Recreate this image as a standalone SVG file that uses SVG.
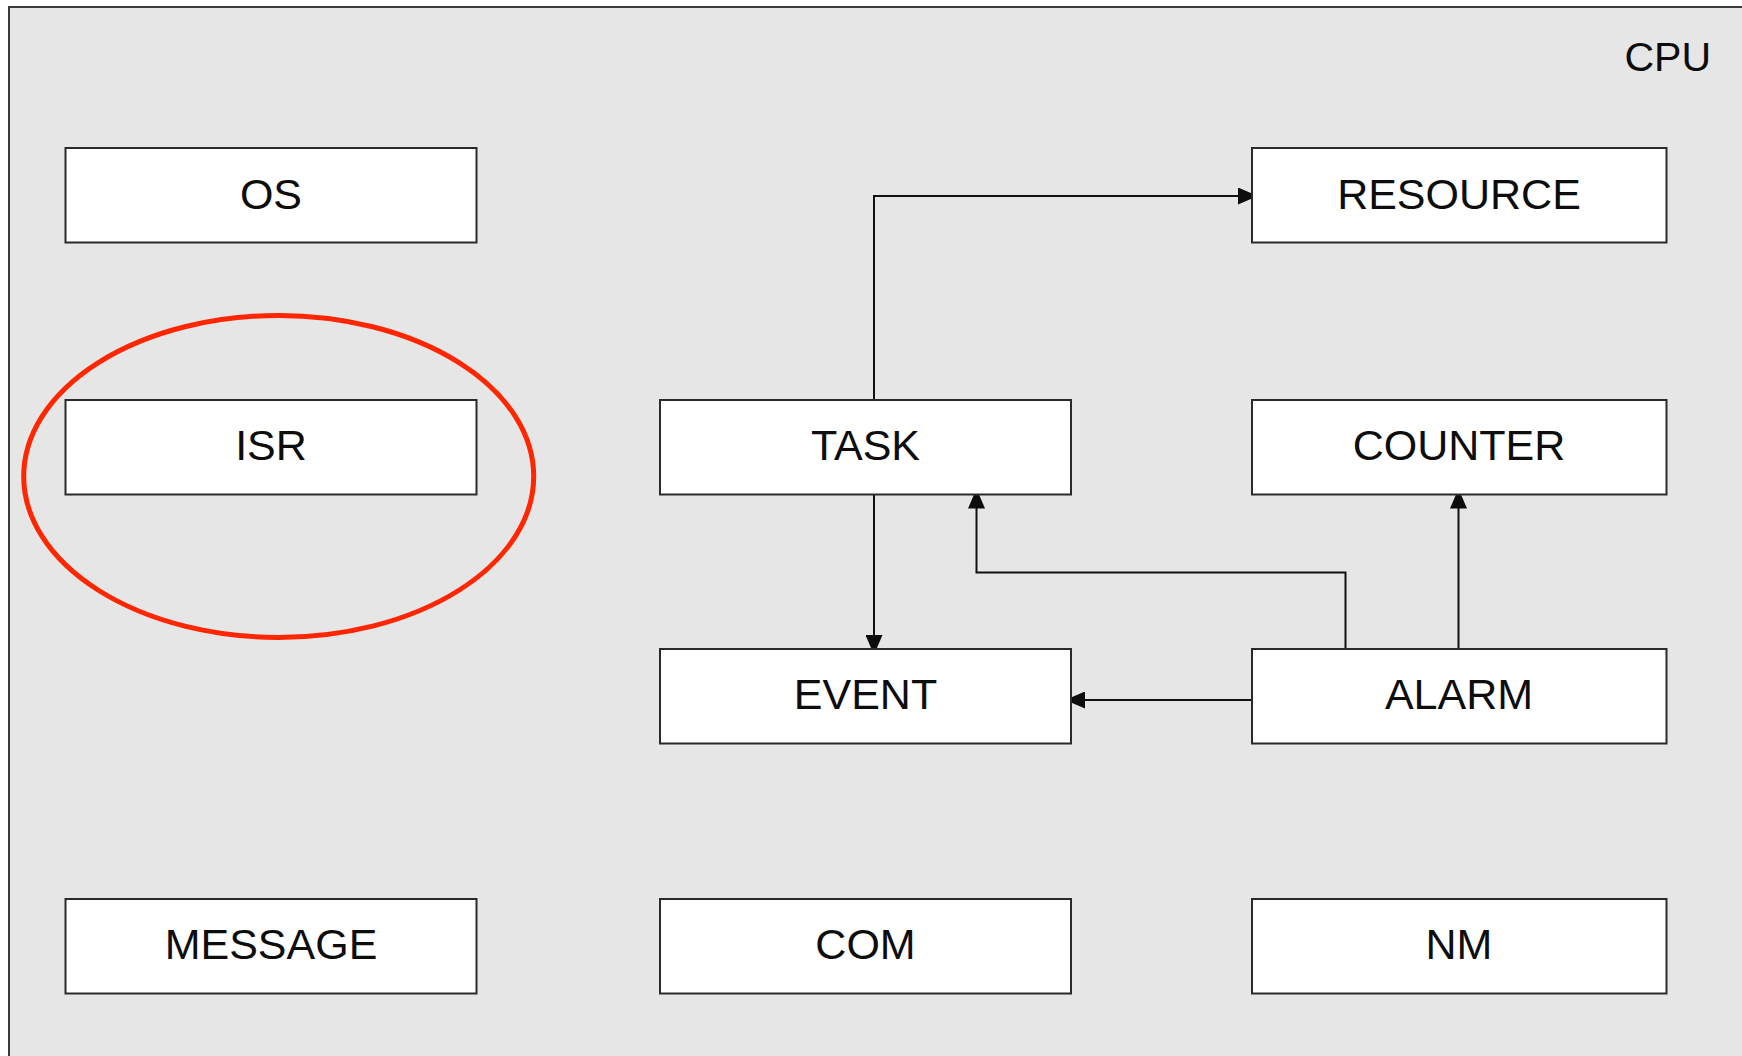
<svg xmlns="http://www.w3.org/2000/svg" width="1742" height="1056" viewBox="0 0 1742 1056">
  <style>
    .box { fill: #ffffff; stroke: #2a2a2a; stroke-width: 2; }
    .lbl { font-family: "Liberation Sans", Arial, sans-serif; font-size: 43px; fill: #0d0d0d; text-anchor: middle; }
    .conn { fill: none; stroke: #111111; stroke-width: 2; }
  </style>
  <defs>
    <marker id="arr" viewBox="0 0 15 17" refX="14" refY="8.5" markerWidth="15" markerHeight="17" markerUnits="userSpaceOnUse" orient="auto">
      <path d="M0,0 L14,6 L14,11 L0,17 Z" fill="#0d0d0d"/>
    </marker>
  </defs>
  <rect x="0" y="0" width="1742" height="1056" fill="#ffffff"/>
  <g id="cpu">
    <rect x="9" y="7" width="1760" height="1080" fill="#e6e6e6" stroke="#3a3a3a" stroke-width="2"/>
    <text class="lbl" x="1711" y="71" style="text-anchor:end;font-size:41px">CPU</text>
  </g>
  <g id="connectors">
    <path class="conn" d="M874,400 L874,196 L1252,196" marker-end="url(#arr)"/>
    <path class="conn" d="M874,494.5 L874,649" marker-end="url(#arr)"/>
    <path class="conn" d="M1345.5,649 L1345.5,572.5 L976.5,572.5 L976.5,494.5" marker-end="url(#arr)"/>
    <path class="conn" d="M1458.5,649 L1458.5,494.5" marker-end="url(#arr)"/>
    <path class="conn" d="M1252,700 L1071,700" marker-end="url(#arr)"/>
  </g>
  <g id="node-os">
    <rect class="box" x="65.5" y="148" width="411" height="94.5"/>
    <text class="lbl" x="271" y="209">OS</text>
  </g>
  <g id="node-isr">
    <rect class="box" x="65.5" y="400" width="411" height="94.5"/>
    <text class="lbl" x="271" y="460">ISR</text>
  </g>
  <g id="node-message">
    <rect class="box" x="65.5" y="899" width="411" height="94.5"/>
    <text class="lbl" x="271" y="959">MESSAGE</text>
  </g>
  <g id="node-task">
    <rect class="box" x="660" y="400" width="411" height="94.5"/>
    <text class="lbl" x="865.5" y="460">TASK</text>
  </g>
  <g id="node-event">
    <rect class="box" x="660" y="649" width="411" height="94.5"/>
    <text class="lbl" x="865.5" y="709">EVENT</text>
  </g>
  <g id="node-com">
    <rect class="box" x="660" y="899" width="411" height="94.5"/>
    <text class="lbl" x="865.5" y="959">COM</text>
  </g>
  <g id="node-resource">
    <rect class="box" x="1252" y="148" width="414.5" height="94.5"/>
    <text class="lbl" x="1459" y="209">RESOURCE</text>
  </g>
  <g id="node-counter">
    <rect class="box" x="1252" y="400" width="414.5" height="94.5"/>
    <text class="lbl" x="1459" y="460">COUNTER</text>
  </g>
  <g id="node-alarm">
    <rect class="box" x="1252" y="649" width="414.5" height="94.5"/>
    <text class="lbl" x="1459" y="709">ALARM</text>
  </g>
  <g id="node-nm">
    <rect class="box" x="1252" y="899" width="414.5" height="94.5"/>
    <text class="lbl" x="1459" y="959">NM</text>
  </g>
  <g id="highlight">
    <ellipse cx="278.7" cy="476.4" rx="255" ry="161" fill="none" stroke="#ff2600" stroke-width="5"/>
  </g>
</svg>
